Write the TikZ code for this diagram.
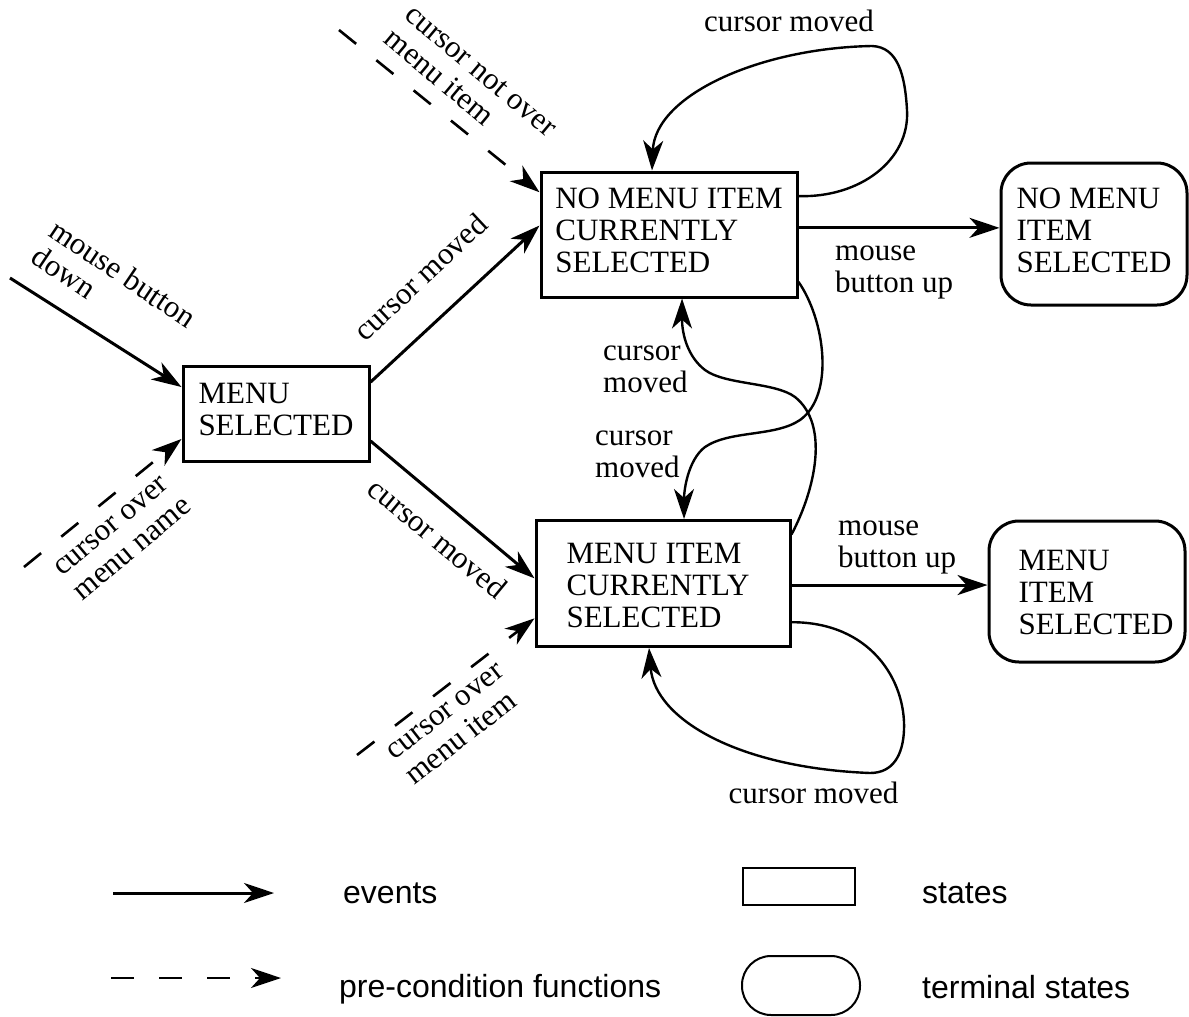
\documentclass[tikz,border=0pt]{standalone}
\usepackage{fontspec}
\setmainfont{Liberation Serif}
\newfontfamily\legfont{Liberation Sans}
\usetikzlibrary{arrows.meta,calc}
\newcommand\dfont{\fontsize{31}{32}\selectfont}
\newcommand\lfont{\legfont\fontsize{32}{34}\selectfont}
\begin{document}
\begin{tikzpicture}[x=1pt,y=-1pt,
  >={Stealth[length=30pt,width=20pt,inset=9pt]},
  state/.style={draw,line width=3pt,inner sep=0pt,align=left,font=\dfont},
  term/.style={state,rounded corners=30pt},
  ev/.style={->,line width=3pt},
  pre/.style={->,line width=2.6pt,dash pattern=on 22pt off 26pt},
  cv/.style={->,line width=2.4pt},
  lbl/.style={inner sep=0pt,align=left,font=\dfont},
  leg/.style={inner sep=0pt,anchor=base west,font=\lfont}]
\useasboundingbox (0,0) rectangle (1189,1017);

% states
\node[state,minimum width=186pt,minimum height=95pt] (ms) at (276,413.5) {\strut MENU\\\strut SELECTED};
\node[state,minimum width=256pt,minimum height=125pt] (nm) at (669,234.5) {\strut NO MENU ITEM\\\strut CURRENTLY\\\strut SELECTED};
\node[state,minimum width=254pt,minimum height=126pt] (mi) at (663,583.5) {\rule{0pt}{33.4pt}MENU ITEM\\\strut CURRENTLY\rule{10pt}{0pt}\\\strut SELECTED};
\node[term,minimum width=186pt,minimum height=142pt] (tnm) at (1094,234) {\strut NO MENU\\\strut ITEM\\\strut SELECTED};
\node[term,minimum width=196pt,minimum height=141pt] (tmi) at (1087,591.5) {\rule{18pt}{0pt}\rule{0pt}{31.4pt}MENU\\\rule{18pt}{0pt}\strut ITEM\\\rule{18pt}{0pt}\strut SELECTED};

% straight connectors
\coordinate (mbd) at (10,278);
\draw[ev] (mbd) -- ($(ms.north west)!0.23!(ms.south west)$);
\coordinate (cmn) at (24,567);
\draw[pre] (cmn) -- ($(ms.north west)!0.76!(ms.south west)$);
\draw[ev] ($(ms.north east)!0.18!(ms.south east)$) -- ($(nm.north west)!0.43!(nm.south west)$);
\draw[ev] ($(ms.north east)!0.78!(ms.south east)$) -- ($(mi.north west)!0.46!(mi.south west)$);
\coordinate (cno) at (339,30);
\draw[pre] (cno) -- ($(nm.north west)!0.17!(nm.south west)$);
\coordinate (cmi) at (357,755);
\draw[pre] (cmi) -- ($(mi.north west)!0.77!(mi.south west)$);
\coordinate (h1) at ($(nm.north east)!0.448!(nm.south east)$);
\draw[ev] (h1) -- (h1 -| tnm.west);
\coordinate (h2) at ($(mi.north east)!0.512!(mi.south east)$);
\draw[ev] (h2) -- (h2 -| tmi.west);

% loops
\draw[cv] ($(nm.north east)!0.2!(nm.south east)$) .. controls (860,198) and (910,160) .. (907,110)
  .. controls (905,75) and (898,47) .. (872,46) .. controls (760,48) and (655,95) .. ([xshift=-17pt]nm.north);
\draw[cv] ($(mi.north east)!0.8!(mi.south east)$) .. controls (870,622) and (906,680) .. (904,730)
  .. controls (903,755) and (893,773) .. (870,773) .. controls (740,768) and (655,720) .. ([xshift=-14pt]mi.south);

% S-curves
\draw[cv] ($(nm.north east)!0.87!(nm.south east)$) .. controls (825,320) and (835,395) .. (800,420)
  .. controls (775,437) and (730,430) .. (705,447) .. controls (688,460) and (684,490) .. ([xshift=21pt]mi.north);
\draw[cv] ($(mi.north east)!0.12!(mi.south east)$) .. controls (815,490) and (830,425) .. (795,397)
  .. controls (775,382) and (725,385) .. (705,370) .. controls (688,357) and (682,335) .. ([xshift=13pt]nm.south);

% labels
\node[lbl,rotate=-34] (l1) at (112,290) {\strut mouse button\\\strut down};
\node[lbl,rotate=40] (l2) at (123.5,538) {\strut cursor over\\\strut menu name};
\node[lbl,rotate=43] (l3) at (423,280) {\strut cursor moved};
\node[lbl,rotate=-39.5] (l4) at (435,541) {\strut cursor moved};
\node[lbl,rotate=-40] (l5) at (469,85) {\strut cursor not over\\\strut menu item};
\node[lbl,rotate=38] (l6) at (456,725) {\strut cursor over\\\strut menu item};
\node[lbl,anchor=west] (l7) at (835,270) {\strut mouse\\\strut button up};
\node[lbl,anchor=west] (l8) at (838,545) {\strut mouse\\\strut button up};
\node[lbl] (l9) at (789,25) {\strut cursor moved};
\node[lbl] (l10) at (813.5,797) {\strut cursor moved};
\node[lbl,anchor=west] (l11) at (603,370) {\strut cursor\\\strut moved};
\node[lbl,anchor=west] (l12) at (595,455) {\strut cursor\\\strut moved};

% legend
\coordinate (le1) at (113,893); \coordinate (le2) at (274,893);
\draw[ev] (le1) -- (le2);
\coordinate (lp1) at (111,978); \coordinate (lp2) at (281,978);
\draw[pre,dash pattern=on 23pt off 25pt] (lp1) -- (lp2);
\node[draw,line width=2pt,minimum width=112pt,minimum height=37pt,inner sep=0pt] (lgs) at (799,886.5) {};
\node[draw,line width=2pt,rounded corners=29pt,minimum width=118pt,minimum height=59pt,inner sep=0pt] (lgt) at (801,985.5) {};
\node[leg] (t1) at (343,903) {events};
\node[leg] (t2) at (339,997) {pre-condition functions};
\node[leg] (t3) at (922,903) {states};
\node[leg] (t4) at (922,998) {terminal states};
\end{tikzpicture}
\end{document}
